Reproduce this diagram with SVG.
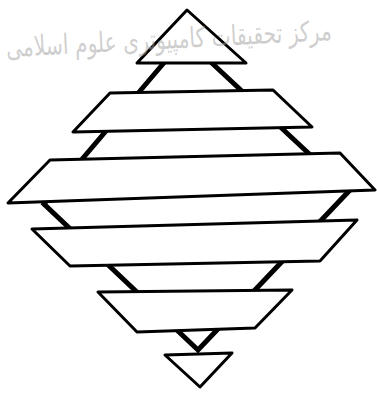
<svg xmlns="http://www.w3.org/2000/svg" width="377" height="393" viewBox="0 0 377 393">
<style>
.shape{fill:#fff;stroke:#000;stroke-width:3;stroke-linejoin:round}
.edge{fill:none;stroke:#000;stroke-width:5;stroke-linejoin:miter}
.wm{fill:#a0a0a0;fill-opacity:0.5;font-family:"DejaVu Sans",sans-serif;font-size:28px}
</style>
<rect width="377" height="393" fill="#fff"/>
<g id="connectors">
<polygon class="edge" points="185,38 349,191 198,350 44,204"/>
</g>
<g id="top-triangle"><polygon class="shape" points="187,10 246,63 137,63"/></g>
<g id="band-1"><polygon class="shape" points="110,93 273,90 312,127 73,132"/></g>
<g id="band-2"><polygon class="shape" points="50,160 340,153 375,190 8,203"/></g>
<g id="band-3"><polygon class="shape" points="32,229 357,220 320,261 70,266"/></g>
<g id="band-4"><polygon class="shape" points="98,292 292,290 255,328 137,332"/></g>
<g id="bottom-triangle"><polygon class="shape" points="165,355 232,353 200,387"/></g>
<text class="wm" x="332" y="40" text-anchor="end" textLength="326" lengthAdjust="spacingAndGlyphs" transform="rotate(-3 332 40)">مرکز تحقیقات کامپیوتری علوم اسلامی</text>
</svg>
